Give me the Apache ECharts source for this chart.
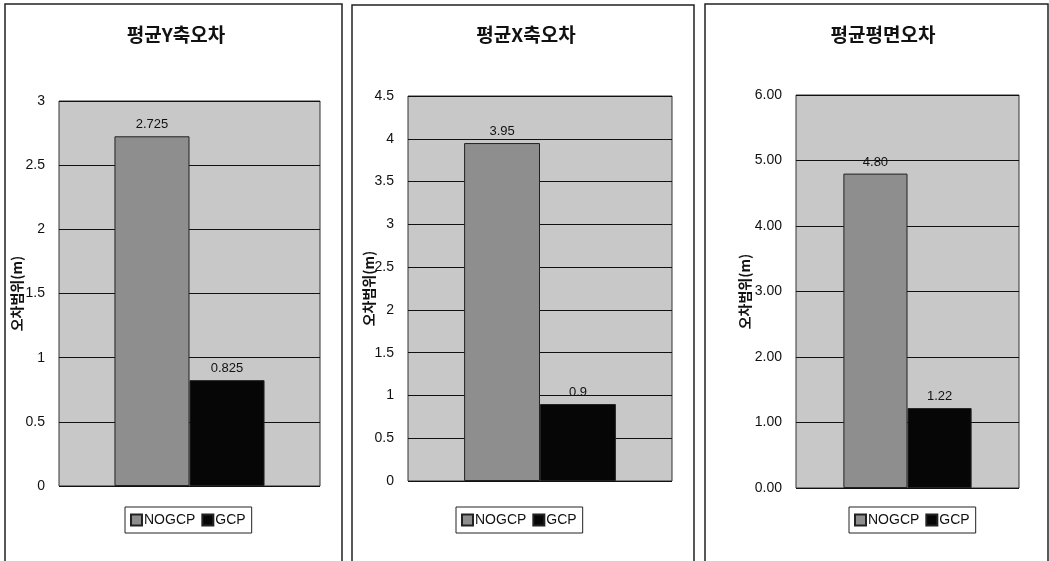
<!DOCTYPE html>
<html>
<head>
<meta charset="utf-8">
<script src="https://cdn.jsdelivr.net/npm/echarts@6/dist/echarts.min.js"></script>
<style>
  html, body { margin: 0; padding: 0; background: #fff; }
  #main { width: 1049px; height: 561px; }
</style>
</head>
<body>
<div id="main"></div>
<script>
// chart data
const titles = ['평균Y축오차', '평균X축오차', '평균평면오차'];
const seriesNames = ['NOGCP', 'GCP'];
const nogcpValues = [2.725, 3.95, 4.80];
const gcpValues = [0.825, 0.9, 1.22];
const axisMax = [3, 4.5, 6];
const axisStep = [0.5, 0.5, 1];
const decimals = [null, null, 2]; // third panel shows 2 decimals
const axisName = '오차범위(m)';

// layout of the three panels
const panels = [
  { box: [5, 4, 337], grid: { left: 59, top: 101, width: 261, height: 385 }, titleX: 171, nameGap: 35, legendX: 190 },
  { box: [352, 5, 342], grid: { left: 408, top: 96, width: 264, height: 385 }, titleX: 521, nameGap: 32, legendX: 521 },
  { box: [705, 4, 343], grid: { left: 796, top: 95, width: 223, height: 393 }, titleX: 878, nameGap: 44, legendX: 914 }
];

const fmt = (v, i) => decimals[i] == null ? String(v) : Number(v).toFixed(decimals[i]);

const grid = [], xAxis = [], yAxis = [], series = [], title = [], legend = [], graphic = [];

panels.forEach((p, i) => {
  graphic.push({
    type: 'rect',
    shape: { x: p.box[0], y: p.box[1], width: p.box[2], height: 600 },
    style: { fill: 'none', stroke: '#222', lineWidth: 1.5 },
    silent: true
  });
  title.push({
    text: titles[i],
    left: p.titleX, top: 20,
    textAlign: 'center',
    textStyle: { fontFamily: 'Noto Sans CJK KR', fontWeight: 'bold', fontSize: 19, color: '#111' }
  });
  grid.push(Object.assign({
    show: true,
    backgroundColor: '#c8c8c8',
    borderColor: '#333',
    borderWidth: 1
  }, p.grid));
  xAxis.push({
    type: 'category',
    gridIndex: i,
    data: [''],
    axisLine: { show: false },
    axisTick: { show: false },
    axisLabel: { show: false }
  });
  yAxis.push({
    type: 'value',
    gridIndex: i,
    min: 0,
    max: axisMax[i],
    interval: axisStep[i],
    name: axisName,
    nameLocation: 'middle',
    nameGap: p.nameGap,
    nameMoveOverlap: false,
    nameTextStyle: { fontFamily: 'Noto Sans CJK KR', fontWeight: 'bold', fontSize: 14, color: '#111' },
    axisLine: { show: false },
    axisTick: { show: false },
    axisLabel: {
      color: '#111', fontFamily: 'Liberation Sans', fontSize: 14, margin: 14,
      formatter: v => fmt(v, i)
    },
    splitLine: { lineStyle: { color: '#111', width: 1 } }
  });
  [nogcpValues, gcpValues].forEach((vals, k) => {
    series.push({
      name: seriesNames[k],
      type: 'bar',
      xAxisIndex: i,
      yAxisIndex: i,
      data: [vals[i]],
      barGap: 0,
      barCategoryGap: '42.5%',
      itemStyle: {
        color: k === 0 ? '#8e8e8e' : '#060606',
        borderColor: '#222',
        borderWidth: 1
      },
      label: {
        show: true,
        position: 'top',
        distance: 5,
        color: '#111',
        fontFamily: 'Liberation Sans',
        fontSize: 13,
        formatter: d => fmt(d.value, i)
      }
    });
  });
  legend.push({
    data: seriesNames,
    left: p.legendX - 65, top: 507,
    icon: 'rect',
    itemWidth: 11,
    itemHeight: 11,
    itemGap: 6,
    padding: [6, 6, 6, 5],
    borderColor: '#222',
    borderWidth: 1,
    backgroundColor: '#fff',
    textStyle: { fontFamily: 'Liberation Sans', fontSize: 14, color: '#111', padding: [0, 0, 0, -3] }
  });
});

const chart = echarts.init(document.getElementById('main'));
chart.setOption({
  animation: false,
  backgroundColor: '#fff',
  title, legend, grid, xAxis, yAxis, series,
  graphic
});
</script>
</body>
</html>
